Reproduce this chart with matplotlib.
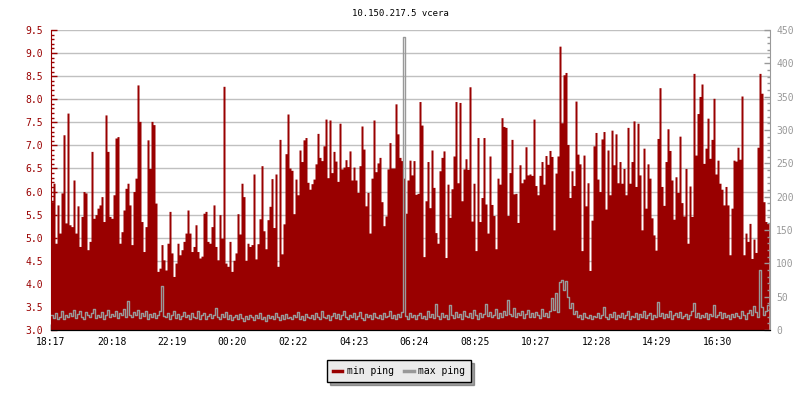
###############################
#       Read in Libraries     #
###############################
import numpy as np
import matplotlib
matplotlib.use('Agg')
import matplotlib.pyplot as plt
from matplotlib.ticker import MultipleLocator, FormatStrFormatter

################################
#             Data             #
################################
title = '10.150.217.5 vcera'
step_minutes = 4   # one sample every 4 minutes, 24 hours

# min ping (ms, left axis)
min_ping = [
    5.78, 6.18, 4.88, 5.71, 5.10, 5.97, 7.23, 5.32, 7.70, 5.28,
    5.24, 6.25, 5.10, 5.69, 4.81, 5.46, 6.00, 5.97, 4.74, 4.92,
    6.87, 5.42, 5.50, 5.64, 5.71, 5.89, 5.35, 7.66, 6.87, 5.46,
    5.42, 5.93, 7.16, 7.19, 4.88, 5.13, 5.60, 6.07, 6.18, 5.71,
    4.85, 6.00, 6.29, 8.31, 7.52, 5.35, 4.70, 5.24, 7.12, 6.50,
    7.52, 7.45, 5.75, 4.27, 4.34, 4.85, 4.52, 4.30, 4.88, 5.57,
    4.67, 4.16, 4.45, 4.88, 4.63, 4.74, 4.92, 5.10, 5.60, 5.10,
    4.70, 4.81, 5.28, 4.70, 4.56, 4.60, 5.53, 5.57, 4.92, 4.88,
    5.24, 5.71, 4.81, 4.52, 5.50, 4.99, 8.28, 4.45, 4.38, 4.92,
    4.27, 4.51, 4.67, 5.52, 5.08, 6.18, 5.89, 4.51, 4.88, 4.81,
    4.85, 6.38, 4.54, 4.87, 5.41, 6.56, 5.15, 4.76, 5.39, 5.68,
    6.28, 5.22, 6.38, 4.38, 7.13, 4.65, 5.30, 6.82, 7.68, 6.51,
    6.46, 5.52, 6.27, 5.93, 6.90, 6.65, 7.12, 7.17, 6.20, 6.05,
    6.17, 6.27, 6.60, 7.26, 6.74, 6.67, 6.99, 7.57, 6.30, 7.55,
    6.41, 6.87, 6.66, 6.22, 7.48, 6.49, 6.53, 6.69, 6.54, 6.88,
    6.25, 6.53, 6.25, 5.98, 6.56, 7.42, 6.92, 5.69, 5.98, 5.10,
    6.29, 7.55, 6.43, 6.62, 6.74, 5.78, 5.26, 5.47, 6.49, 7.06,
    6.51, 6.51, 7.90, 7.25, 6.74, 6.67, 6.29, 5.53, 6.25,
    6.68, 6.36, 6.67, 5.94, 5.96, 7.95, 7.44, 4.59, 5.80, 6.65,
    5.65, 6.90, 6.09, 5.11, 4.88, 6.45, 6.74, 6.88, 4.57, 6.16,
    5.44, 6.06, 6.77, 7.95, 6.19, 7.93, 5.80, 6.49, 6.71, 6.48,
    8.27, 5.36, 6.18, 4.72, 7.17, 5.35, 5.87, 7.17, 5.73, 5.10,
    6.77, 5.72, 5.48, 4.76, 6.29, 6.16, 7.60, 7.41, 7.39, 5.48,
    6.41, 7.13, 5.95, 5.96, 5.33, 6.58, 6.19, 6.27, 6.97, 6.36,
    6.38, 6.35, 7.57, 6.13, 5.93, 6.35, 6.65, 6.16, 6.78, 6.59,
    6.89, 6.76, 5.17, 6.40, 6.77, 9.15, 7.49, 8.53, 8.58, 7.02,
    5.87, 6.45, 6.13, 7.96, 6.81, 6.60, 4.72, 6.79,
    5.69, 6.19, 4.29, 5.38, 6.99, 7.28, 6.27, 6.00, 7.14, 7.30,
    5.62, 6.90, 5.93, 7.33, 6.58, 7.25, 6.19, 6.65, 6.18, 6.50,
    5.93, 7.39, 6.18, 6.65, 7.53, 6.11, 7.48, 6.36, 5.17, 6.94,
    5.64, 6.60, 6.29, 5.43, 5.06, 4.73, 7.15, 8.25, 6.11, 5.70,
    6.65, 7.36, 6.89, 6.25, 5.40, 6.32, 5.98, 7.20, 5.76, 5.47,
    6.50, 4.88, 6.12, 5.46, 8.56, 6.79, 7.69, 8.06, 8.33, 6.61,
    6.94, 7.59, 6.72, 7.13, 8.02, 6.38, 6.68, 6.18, 6.05, 5.71,
    6.11, 5.71, 4.63, 5.64, 6.68, 6.66, 6.96, 6.70, 8.07, 4.63,
    5.10, 4.92, 5.31, 4.55, 4.97, 4.68, 6.96, 8.56, 8.13, 5.78,
    5.35, 5.31,
]

# max ping (ms, right axis)
max_ping = [
    22, 18, 25, 16, 20, 28, 17, 23, 19, 26,
    21, 30, 18, 24, 29, 20, 16, 27, 22, 19,
    25, 31, 18, 23, 20, 27, 17, 22, 30, 19,
    24, 21, 28, 18, 26, 22, 31, 20, 43, 23,
    19, 27, 22, 30, 18, 25, 21, 29, 17, 24,
    20, 26, 18, 23, 28, 66, 21, 19, 25, 17,
    22, 28, 18, 24, 16, 21, 27, 19, 23, 17,
    25, 20, 18, 29, 16, 22, 26, 17, 21, 24,
    18, 23, 33, 19, 16, 24, 20, 27, 17, 22,
    15, 19, 22, 16, 24, 18, 14, 21, 17, 23,
    19, 15, 22, 18, 25, 16, 20, 14, 23, 18,
    21, 16, 26, 19, 15, 22, 17, 24, 18, 20,
    16, 23, 19, 27, 17, 21, 15, 24, 20, 18,
    22, 17, 25, 19, 16, 28, 20, 18, 23, 15,
    21, 26, 18, 24, 17, 22, 29, 19, 16, 23,
    20, 25, 17, 21, 27, 18, 15, 24, 19, 22,
    17, 26, 20, 18, 23, 16, 25, 19, 21, 28,
    18, 22, 16, 24, 20, 27, 440, 21, 17, 25,
    19, 23, 16, 22, 26, 18, 21, 17, 28, 20,
    24, 18, 39, 21, 17, 26, 19, 23, 16, 37,
    22, 18, 27, 20, 24, 17, 29, 21, 19, 25,
    18, 30, 22, 17, 26, 20, 24, 39, 21, 27,
    19, 23, 31, 18, 25, 20, 28, 22, 45, 24,
    21, 33, 19, 26, 22, 29, 18, 24, 30, 20,
    25, 19, 27, 22, 18, 31, 21, 26, 19, 28,
    48, 30, 55, 27, 72, 75, 60, 74, 50, 33,
    40, 24, 29, 19, 22, 17, 25, 20, 18, 23,
    16, 21, 19, 26, 18, 22, 35, 20, 17, 24,
    19, 27, 16, 22, 20, 25, 18, 23, 29, 17,
    21, 19, 26, 16, 24, 20, 28, 18, 22, 25,
    17, 23, 19, 42, 21, 26, 18, 24, 20, 29,
    16, 22, 25, 19, 27, 18, 21, 24, 17, 23,
    28, 40, 20, 25, 18, 22, 19, 26, 17, 24,
    21, 38, 19, 23, 27, 18, 25, 20, 22, 16,
    24, 19, 26, 21, 18, 28, 22, 17, 25, 30,
    23, 36, 27, 20, 90, 34, 22, 28, 37,
]

tick_minutes = [0, 121, 242, 363, 485, 606, 727, 848, 970, 1091, 1212, 1333]
tick_labels = ['18:17', '20:18', '22:19', '00:20', '02:22', '04:23',
               '06:24', '08:25', '10:27', '12:28', '14:29', '16:30']

################################
#            Styles            #
################################
red = '#990000'
gray = '#999999'
plt.rcParams['font.family'] = ['DejaVu Sans Mono']
fs = 7

################################
#             Plot             #
################################
n = min(len(min_ping), len(max_ping))
x = np.arange(n + 1) * step_minutes
y_min = np.append(min_ping[:n], min_ping[n - 1])
y_max = np.append(max_ping[:n], max_ping[n - 1])

fig = plt.figure(figsize=(8, 4), dpi=100)
ax = fig.add_axes([51 / 800, 70 / 400, 719 / 800, 300 / 400])
ax2 = ax.twinx()

ax.fill_between(x, 3.0, y_min, step='post', color=red, linewidth=0, zorder=2)
ax.set_axisbelow(True)
ax.grid(axis='y', color='#c0c0c0', linewidth=1)
ax.set_ylim(3.0, 9.5)
ax.set_xlim(0, 1438)

ax2.step(x, y_max, where='post', color=gray, linewidth=1)
ax2.set_ylim(0, 450)

# left axis
ax.yaxis.set_major_locator(MultipleLocator(0.5))
ax.yaxis.set_minor_locator(MultipleLocator(0.1))
ax.yaxis.set_major_formatter(FormatStrFormatter('%.1f'))
ax.tick_params(axis='y', which='both', direction='in', colors=red,
               labelsize=fs, pad=6)
ax.tick_params(axis='y', which='major', length=4, width=1)
ax.tick_params(axis='y', which='minor', length=2.5, width=1)

# bottom axis
ax.set_xticks(tick_minutes)
ax.set_xticklabels(tick_labels)
ax.tick_params(axis='x', direction='in', length=4, width=1,
               labelsize=fs, pad=5, color='black')

# right axis
ax2.yaxis.set_major_locator(MultipleLocator(50))
ax2.yaxis.set_minor_locator(MultipleLocator(10))
ax2.tick_params(axis='y', which='both', direction='in', colors=gray,
                labelsize=fs, pad=4.5)
ax2.tick_params(axis='y', which='major', length=4, width=1)
ax2.tick_params(axis='y', which='minor', length=2.5, width=1)

for a in (ax, ax2):
    a.spines['top'].set_visible(False)
ax.spines['left'].set_color(red)
ax.spines['right'].set_visible(False)
ax2.spines['left'].set_visible(False)
ax2.spines['right'].set_color(gray)
ax2.spines['bottom'].set_color('black')

fig.text(0.5, 1 - 13 / 400, title, ha='center', va='center', fontsize=6.5)

handles = [plt.Line2D([], [], color=red, linewidth=2.5),
           plt.Line2D([], [], color=gray, linewidth=2.5)]
leg = fig.legend(handles, ['min ping', 'max ping'], loc='center',
                 bbox_to_anchor=(399 / 800, 1 - 371 / 400), ncol=2,
                 fontsize=fs, frameon=True, fancybox=False, shadow=True,
                 handlelength=1.0, handletextpad=0.5, columnspacing=1.0,
                 borderpad=0.6, borderaxespad=0)
leg.get_frame().set_facecolor('#ebebeb')
leg.get_frame().set_edgecolor('black')
leg.get_frame().set_linewidth(1)
leg.get_frame().set_alpha(1)

plt.savefig('out.png', dpi=100)
